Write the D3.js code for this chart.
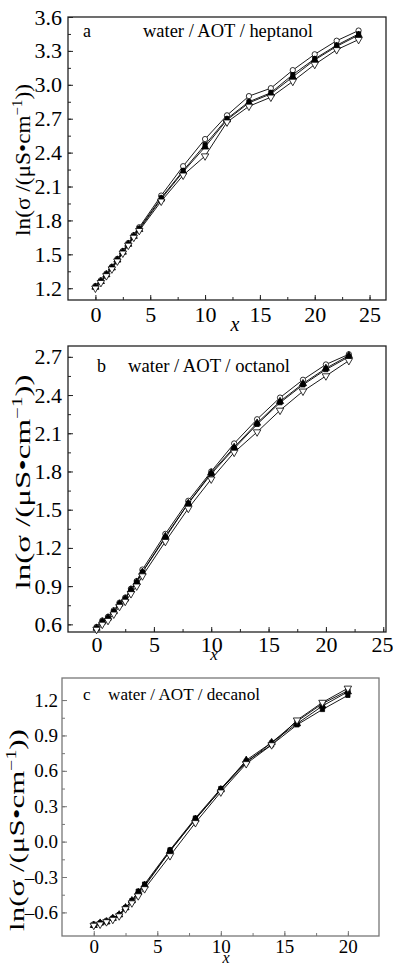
<!DOCTYPE html>
<html><head><meta charset="utf-8">
<script src="https://cdn.jsdelivr.net/npm/d3@7"></script>
<style>
html,body{margin:0;padding:0;background:#fff;}
svg{display:block;font-family:"Liberation Serif","Times New Roman",serif;}
</style></head>
<body><svg id="chart" width="393" height="965"></svg>
<script>
// ---------- DATA ----------
// panel a : water / AOT / heptanol
const xA = [0,0.5,1,1.5,2,2.5,3,3.5,4,6,8,10,12,14,16,18,20,22,24];
const aCircle  = [1.22,1.27,1.33,1.39,1.46,1.53,1.60,1.67,1.74,2.02,2.28,2.52,2.73,2.90,2.97,3.13,3.27,3.39,3.48];
const aSquare  = [1.21,1.26,1.32,1.38,1.45,1.52,1.59,1.66,1.73,2.00,2.24,2.47,2.70,2.85,2.93,3.09,3.23,3.35,3.45];
const aTriUp   = [1.21,1.26,1.32,1.38,1.45,1.52,1.59,1.66,1.72,1.99,2.23,2.45,2.69,2.84,2.92,3.07,3.22,3.34,3.44];
const aTriDown = [1.20,1.25,1.31,1.37,1.44,1.51,1.58,1.65,1.71,1.97,2.20,2.37,2.67,2.81,2.89,3.03,3.18,3.31,3.40];
const xTicksA = [0,5,10,15,20,25];
const yTicksA = [1.2,1.5,1.8,2.1,2.4,2.7,3.0,3.3,3.6];

// panel b : water / AOT / octanol
const xB = [0,0.5,1,1.5,2,2.5,3,3.5,4,6,8,10,12,14,16,18,20,22];
const bCircle  = [0.58,0.63,0.66,0.71,0.77,0.81,0.88,0.94,1.03,1.31,1.57,1.80,2.02,2.21,2.38,2.52,2.64,2.72];
const bSquare  = [0.57,0.62,0.65,0.70,0.76,0.80,0.87,0.93,1.01,1.28,1.55,1.78,1.98,2.17,2.34,2.48,2.60,2.70];
const bTriUp   = [0.57,0.62,0.65,0.70,0.76,0.80,0.87,0.93,1.01,1.29,1.55,1.79,1.99,2.18,2.35,2.49,2.61,2.71];
const bTriDown = [0.56,0.60,0.63,0.68,0.74,0.78,0.84,0.90,0.98,1.25,1.51,1.74,1.95,2.11,2.28,2.43,2.55,2.67];
const xTicksB = [0,5,10,15,20,25];
const yTicksB = [0.6,0.9,1.2,1.5,1.8,2.1,2.4,2.7];

// panel c : water / AOT / decanol
const xC = [0,0.5,1,1.5,2,2.5,3,3.5,4,6,8,10,12,14,16,18,20];
const cCircle  = [-0.70,-0.69,-0.67,-0.65,-0.62,-0.56,-0.51,-0.44,-0.38,-0.08,0.19,0.44,0.67,0.84,1.02,1.17,1.28];
const cSquare  = [-0.71,-0.69,-0.68,-0.65,-0.62,-0.56,-0.50,-0.42,-0.36,-0.07,0.20,0.45,0.68,0.82,0.99,1.12,1.24];
const cTriUp   = [-0.71,-0.69,-0.68,-0.65,-0.62,-0.56,-0.50,-0.43,-0.37,-0.08,0.19,0.44,0.69,0.84,1.00,1.15,1.27];
const cTriDown = [-0.71,-0.70,-0.68,-0.66,-0.63,-0.57,-0.52,-0.46,-0.40,-0.12,0.16,0.42,0.66,0.82,1.03,1.18,1.30];
const xTicksC = [0,5,10,15,20];
const yTicksC = [-0.6,-0.3,0.0,0.3,0.6,0.9,1.2];

const seriesNames = ["circle","square","triUp","triDown"];
const titles = ["water / AOT / heptanol","water / AOT / octanol","water / AOT / decanol"];
const letters = ["a","b","c"];

// ---------- LAYOUT ----------
const panels = [
  {x:xA, ys:[aCircle,aSquare,aTriUp,aTriDown], xt:xTicksA, yt:yTicksA,
   L:68,R:386,T:17,B:300, xd:[-2.5,26.5], yd:[1.096,3.6], frame:"#222", fs:22, pad:6,
   letter:{x:83,y:37}, title:{x:143,y:37,len:170,fs:18}, xlab:{x:235,y:331,fs:20},
   ylab:{x:30,cy:160,len:152}, xlabBase:22},
  {x:xB, ys:[bCircle,bSquare,bTriUp,bTriDown], xt:xTicksB, yt:yTicksB,
   L:68,R:386,T:346,B:632, xd:[-2.49,25.24], yd:[0.54,2.785], frame:"#222", fs:22, pad:6,
   letter:{x:97,y:372}, title:{x:128,y:372,len:162,fs:18}, xlab:{x:214,y:660,fs:17},
   ylab:{x:30,cy:482,len:215}, xlabBase:20},
  {x:xC, ys:[cCircle,cSquare,cTriUp,cTriDown], xt:xTicksC, yt:yTicksC,
   L:62,R:379,T:678,B:936, xd:[-2.5,22.45], yd:[-0.80,1.387], frame:"#777", fs:19, pad:4,
   letter:{x:83,y:700}, title:{x:108,y:700,len:152,fs:17}, xlab:{x:226,y:963,fs:16},
   ylab:{x:24,cy:830,len:202}, xlabBase:17}
];

const svg = d3.select("#chart");

const symFor = {
  circle: {type:d3.symbolCircle, size:22, fill:"#fff"},
  square: {type:d3.symbolSquare, size:18, fill:"#000"},
  triUp:  {type:d3.symbolTriangle, size:22, fill:"#000"},
  triDown:{type:d3.symbolTriangle, size:24, fill:"#fff", rot:180}
};

panels.forEach((p,pi)=>{
  const g = svg.append("g");
  const xs = d3.scaleLinear().domain(p.xd).range([p.L,p.R]);
  const ys = d3.scaleLinear().domain(p.yd).range([p.B,p.T]);

  // frame
  g.append("rect").attr("x",p.L).attr("y",p.T).attr("width",p.R-p.L).attr("height",p.B-p.T)
    .attr("fill","none").attr("stroke",p.frame).attr("stroke-width",1.3);

  // x axis (ticks inward)
  const xMinor = d3.range(p.xt[0], p.xt[p.xt.length-1]+0.01, 2.5).filter(v=>v>=p.xd[0]&&v<=p.xd[1]);
  const xAxis = d3.axisBottom(xs).tickValues(p.xt).tickSize(-5).tickPadding(0).tickFormat(d3.format("d"));
  const xg = g.append("g").attr("transform",`translate(0,${p.B})`).call(xAxis);
  xg.select(".domain").remove();
  xg.selectAll(".tick line").attr("stroke",p.frame);
  xg.selectAll(".tick text").attr("font-size",p.fs).attr("fill","#000")
    .attr("dy",null).attr("y",p.xlabBase).attr("font-family","Liberation Serif")
    .attr("dx", d => (xs(d) + 10 > 393 ? -(xs(d)+11-393) : 0));
  const xmg = g.append("g").attr("transform",`translate(0,${p.B})`)
    .call(d3.axisBottom(xs).tickValues(xMinor).tickSize(-3).tickFormat(""));
  xmg.select(".domain").remove();
  xmg.selectAll(".tick line").attr("stroke",p.frame);

  // y axis
  const yMinor = d3.range(0, p.yt.length*2-1).map(i=>+(p.yt[0]+i*0.15).toFixed(2));
  const fmt = v => (v<0? "\u2013" : "") + Math.abs(v).toFixed(1);
  const yAxis = d3.axisLeft(ys).tickValues(p.yt).tickSize(-5).tickPadding(p.pad).tickFormat(fmt);
  const yg = g.append("g").attr("transform",`translate(${p.L},0)`).call(yAxis);
  yg.select(".domain").remove();
  yg.selectAll(".tick line").attr("stroke",p.frame);
  yg.selectAll(".tick text").attr("font-size",p.fs).attr("fill","#000").attr("font-family","Liberation Serif");
  const ymg = g.append("g").attr("transform",`translate(${p.L},0)`)
    .call(d3.axisLeft(ys).tickValues(yMinor).tickSize(-3).tickFormat(""));
  ymg.select(".domain").remove();
  ymg.selectAll(".tick line").attr("stroke",p.frame);

  // lines
  const line = d3.line().x(d=>xs(d[0])).y(d=>ys(d[1]));
  p.ys.forEach((arr,si)=>{
    const data = p.x.map((xv,i)=>[xv,arr[i]]);
    g.append("path").datum(data).attr("d",line).attr("fill","none")
      .attr("stroke","#000").attr("stroke-width",0.9);
  });
  // markers
  p.ys.forEach((arr,si)=>{
    const s = symFor[seriesNames[si]];
    const data = p.x.map((xv,i)=>[xv,arr[i]]);
    g.append("g").selectAll("path").data(data).join("path")
      .attr("d", d3.symbol().type(s.type).size(s.size))
      .attr("transform", d=>`translate(${xs(d[0])},${ys(d[1])})${s.rot?` rotate(${s.rot})`:""}`)
      .attr("fill",s.fill).attr("stroke","#000").attr("stroke-width",0.8);
  });

  // texts
  g.append("text").attr("x",p.letter.x).attr("y",p.letter.y).attr("font-size",p.title.fs)
    .text(letters[pi]);
  g.append("text").attr("x",p.title.x).attr("y",p.title.y).attr("font-size",p.title.fs)
    .attr("textLength",p.title.len).attr("lengthAdjust","spacingAndGlyphs").text(titles[pi]);
  g.append("text").attr("x",p.xlab.x).attr("y",p.xlab.y).attr("font-size",p.xlab.fs)
    .attr("font-style","italic").attr("text-anchor","middle").text("x");

  // y-axis title, stretched along its direction to the reference length
  const ylg = g.append("g").attr("transform",`translate(${p.ylab.x},${p.ylab.cy}) rotate(-90)`);
  const yl = ylg.append("text").attr("text-anchor","middle").attr("font-size",22);
  yl.append("tspan").text("ln(\u03C3 /(\u03BCS\u2022cm");
  yl.append("tspan").attr("dy",-8).attr("font-size",14).text("\u22121");
  yl.append("tspan").attr("dy",8).text("))");
  const nat = yl.node().getComputedTextLength();
  yl.attr("transform",`scale(${p.ylab.len/nat},1)`);
});
</script></body></html>
